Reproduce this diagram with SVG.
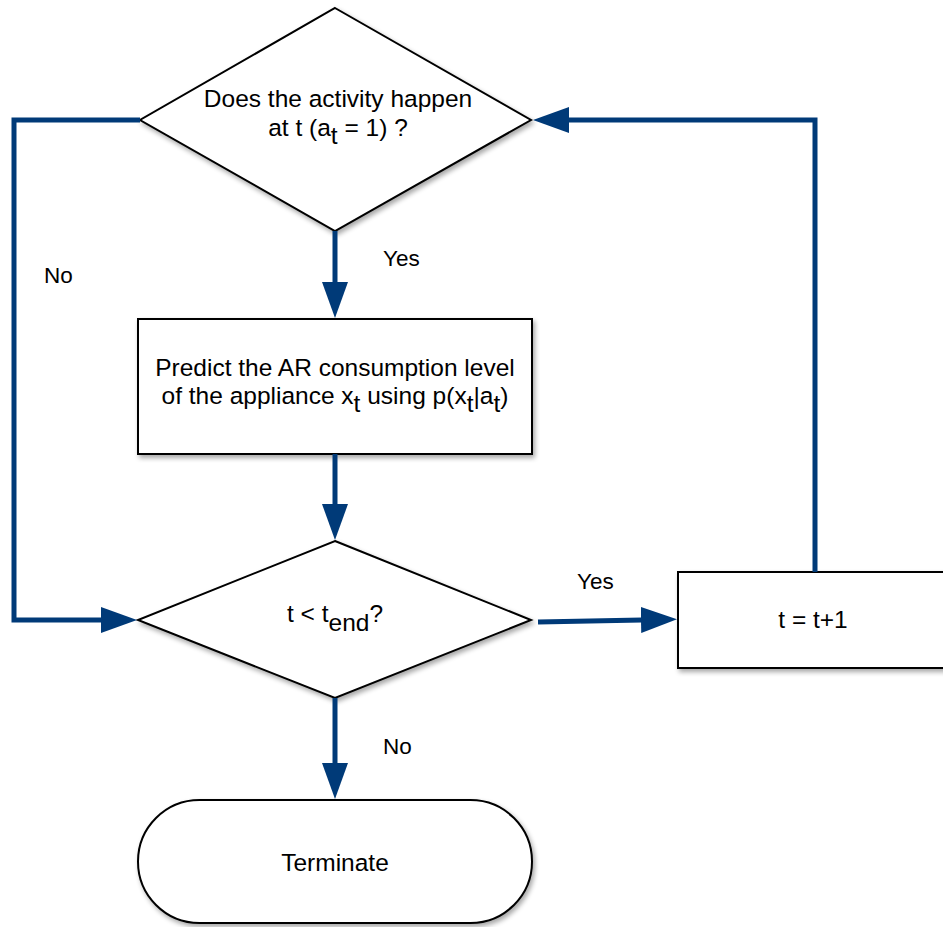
<svg xmlns="http://www.w3.org/2000/svg" width="943" height="927" viewBox="0 0 943 927">
<style>
.shape{fill:#fff;stroke:#000;stroke-width:2;filter:url(#sh)}
.conn{fill:none;stroke:#003a78;stroke-width:5;stroke-linejoin:miter}
text{font-family:"Liberation Sans",Arial,Helvetica,sans-serif;font-size:24.5px;fill:#000}
.lbl{font-size:22.5px}
</style>
<defs>
<filter id="sh" x="-10%" y="-10%" width="120%" height="125%">
<feGaussianBlur in="SourceAlpha" stdDeviation="2.5"/>
<feOffset dx="2" dy="3" result="b"/>
<feComponentTransfer><feFuncA type="linear" slope="0.35"/></feComponentTransfer>
<feMerge><feMergeNode/><feMergeNode in="SourceGraphic"/></feMerge>
</filter>
<marker id="ah" markerUnits="userSpaceOnUse" markerWidth="36" markerHeight="26" refX="1" refY="13" orient="auto">
<path d="M0,0 L36,13 L0,26 z" fill="#003a78"/>
</marker>
</defs>

<g id="decision1">
<polygon class="shape" points="335,8 531,120 335,231 140,120"/>
<text x="338" y="107" text-anchor="middle">Does the activity happen</text>
<text x="338" y="136" text-anchor="middle">at t (a<tspan dy="8">t</tspan><tspan dy="-8"> = 1) ?</tspan></text>
</g>

<g id="predict">
<rect class="shape" x="138" y="319" width="394" height="135"/>
<text x="335" y="376" text-anchor="middle">Predict the AR consumption level</text>
<text x="335" y="404" text-anchor="middle">of the appliance x<tspan dy="8">t</tspan><tspan dy="-8"> using p(x</tspan><tspan dy="8">t</tspan><tspan dy="-8">|a</tspan><tspan dy="8">t</tspan><tspan dy="-8">)</tspan></text>
</g>

<g id="decision2">
<polygon class="shape" points="335,541 531,620 335,698 138,620"/>
<text x="335" y="622" text-anchor="middle">t &lt; t<tspan dy="9">end</tspan><tspan dy="-9">?</tspan></text>
</g>

<g id="increment">
<rect class="shape" x="678" y="572" width="280" height="96"/>
<text x="813" y="628" text-anchor="middle">t = t+1</text>
</g>

<g id="terminate">
<rect class="shape" x="138" y="800" width="394" height="123" rx="61.5" ry="61.5"/>
<text x="335" y="871" text-anchor="middle">Terminate</text>
</g>

<g id="connectors">
<path class="conn" d="M335,231 V283" marker-end="url(#ah)"/>
<path class="conn" d="M335,454 V505" marker-end="url(#ah)"/>
<path class="conn" d="M140,120 H14 V620 H102" marker-end="url(#ah)"/>
<path class="conn" d="M538,622 L642,620" marker-end="url(#ah)"/>
<path class="conn" d="M815,572 V120 H568" marker-end="url(#ah)"/>
<path class="conn" d="M335,698 V764" marker-end="url(#ah)"/>
<text class="lbl" x="383" y="266">Yes</text>
<text class="lbl" x="44" y="283">No</text>
<text class="lbl" x="577" y="589">Yes</text>
<text class="lbl" x="383" y="754">No</text>
</g>
</svg>
